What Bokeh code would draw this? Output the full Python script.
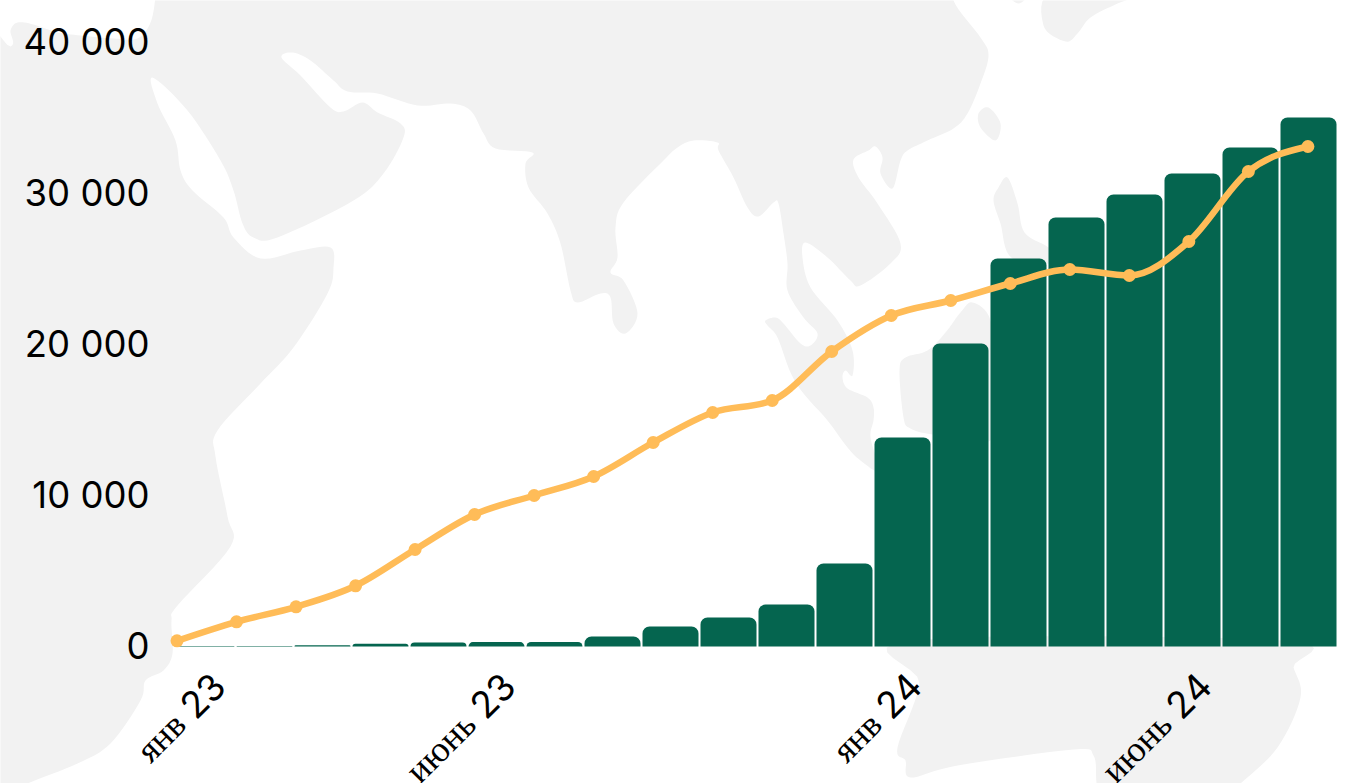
from math import pi
import numpy as np
from bokeh.core.properties import value
from bokeh.embed import file_html
from bokeh.models import ColumnDataSource, FixedTicker, LinearAxis, Range1d
from bokeh.plotting import figure
from bokeh.resources import INLINE

# ---------- data ----------
months = ["янв", "фев", "мар", "апр", "май", "июнь", "июль", "авг", "сен", "окт",
          "ноя", "дек", "янв", "фев", "мар", "апр", "май", "июнь", "июль", "авг"]
bar_values = [25, 40, 80, 190, 265, 290, 300, 662, 1325, 1920, 2781, 5497, 13840,
              20066, 25695, 28410, 29934, 31325, 33046, 35033]
line_values = [377, 1636, 2629, 4020, 6424, 8742, 10000, 11258, 13510, 15497, 16291,
               19536, 21920, 22914, 24040, 24967, 24570, 26821, 31457, 33113]
y_ticks = [0, 10000, 20000, 30000, 40000]
y_tick_labels = ["0", "10 000", "20 000", "30 000", "40 000"]
x_tick_index = [0, 5, 12, 17]
x_tick_months = ["янв", "июнь", "янв", "июнь"]
x_tick_years = ["23", "23", "24", "24"]

# background map outlines (decorative), page pixels
land_main = [(-30, 44), (10, 46), (10, 30), (17, 22), (33, 24), (57, 32), (80, 35), (113, 38), (137, 38), (150, 22), (155, -5),
             (155, -30), (953, -30), (953, 0), (980, 37), (988, 55), (980, 83), (967, 113), (953, 128), (927, 140), (907, 150), (900, 160),
             (892, 188), (880, 173), (882, 157), (875, 146), (868, 150), (853, 159), (858, 177), (877, 203), (900, 243), (890, 263),
             (860, 285), (850, 280), (827, 257), (805, 242), (802, 257), (810, 287), (837, 320), (852, 350), (852, 375), (845, 370),
             (842, 377), (847, 388), (867, 397), (873, 407), (873, 420), (870, 437), (878, 470), (860, 460), (847, 447), (827, 420),
             (803, 393), (790, 372), (777, 337), (767, 325), (765, 320), (775, 317), (783, 323), (800, 343), (810, 345), (817, 333),
             (803, 317), (787, 290), (787, 263), (783, 233), (778, 203), (773, 202), (758, 216), (747, 207), (733, 177), (718, 150),
             (717, 142), (693, 140), (677, 147), (663, 160), (623, 202), (615, 227), (617, 257), (610, 272), (623, 280), (637, 313),
             (625, 333), (613, 323), (610, 297), (600, 293), (577, 302), (570, 290), (560, 243), (547, 213), (528, 187), (525, 163),
             (532, 152), (495, 148), (483, 133), (470, 110), (450, 103), (417, 105), (377, 93), (347, 91), (333, 80), (310, 60),
             (292, 52), (281, 57), (300, 75), (330, 107), (343, 111), (362, 102), (377, 112), (400, 123), (403, 137), (383, 173),
             (353, 200), (277, 237), (253, 237), (242, 223), (233, 190), (220, 160), (187, 110), (152, 77), (157, 103), (175, 140),
             (180, 170), (192, 190), (223, 217), (233, 237), (260, 258), (300, 250), (330, 247), (333, 267), (327, 293), (293, 347),
             (260, 383), (217, 430), (215, 456), (227, 516), (230, 546), (177, 605), (171, 620), (172, 653), (163, 670), (145, 680),
             (140, 700), (110, 743), (77, 763), (27, 783), (-5, 800), (-30, 800), (-30, 400)]
land_isle = [(988, 107), (1000, 123), (995, 140), (980, 127), (978, 113)]
land_phil = [(1007, 177), (1017, 203), (1024, 232), (1048, 247), (1060, 262), (1012, 258), (1000, 223), (993, 200), (998, 187)]
land_japan = [(1053, -10), (1043, 25), (1065, 41), (1077, 33), (1090, 17), (1117, 3), (1147, -10)]
land_tiny = [(1008, -5), (1018, 3), (1027, -5)]
land_borneo = [(972, 302), (990, 320), (995, 380), (990, 440), (932, 434), (910, 428), (903, 417), (899, 370), (905, 357), (927, 350), (945, 332), (960, 312)]
land_aus = [(910, 640), (919, 683), (897, 747), (905, 760), (910, 777), (957, 765), (1073, 749), (1093, 755), (1096, 782), (1100, 800),
            (1220, 800), (1240, 783), (1277, 747), (1300, 697), (1293, 667), (1283, 640)]
land_shapes = [land_main, land_isle, land_phil, land_japan, land_tiny, land_borneo, land_aus]


def smooth_closed(pts, n=8):
    P = np.array(pts, float)
    k = len(P)
    out = []
    for i in range(k):
        p0, p1, p2, p3 = P[(i - 1) % k], P[i], P[(i + 1) % k], P[(i + 2) % k]
        for t in np.linspace(0, 1, n, endpoint=False):
            out.append(0.5 * (2 * p1 + (p2 - p0) * t + (2 * p0 - 5 * p1 + 4 * p2 - p3) * t ** 2
                              + (3 * p1 - p0 - 3 * p2 + p3) * t ** 3))
    out = np.array(out)
    return out[:, 0].tolist(), out[:, 1].tolist()


def monotone_segments(y):
    """d3 curveMonotoneX control points for unit-spaced x."""
    y = np.array(y, float)
    d = np.diff(y)
    m = np.zeros(len(y))
    for i in range(1, len(y) - 1):
        s = np.sign(d[i - 1]) + np.sign(d[i])
        m[i] = s * min(abs(d[i - 1]), abs(d[i]), 0.25 * abs(d[i - 1] + d[i]))
    m[0] = (3 * d[0] - m[1]) / 2
    m[-1] = (3 * d[-1] - m[-2]) / 2
    x = np.arange(len(y), dtype=float)
    return dict(x0=x[:-1], y0=y[:-1], x1=x[1:], y1=y[1:], cx0=x[:-1] + 1 / 3, cy0=y[:-1] + m[:-1] / 3,
                cx1=x[1:] - 1 / 3, cy1=y[1:] - m[1:] / 3)


# ---------- layout (page pixels -> scales) ----------
W, H = 1360, 783
PX_L, PX_R, PX_T, PX_B = 0, W, 0, H
ZERO_PX, PX_PER_UNIT = 646, 0.0151
BAR_C0, BAR_PITCH = 206, 58
LINE_C0, LINE_PITCH = 176.5, 59.52

p = figure(width=W, height=H, output_backend="svg", toolbar_location=None,
           x_axis_type=None, y_axis_type=None,
           x_range=Range1d((PX_L - BAR_C0) / BAR_PITCH, (PX_R - BAR_C0) / BAR_PITCH),
           y_range=Range1d((ZERO_PX - PX_B) / PX_PER_UNIT, (ZERO_PX - PX_T) / PX_PER_UNIT),
           min_border=0, outline_line_color=None, background_fill_color="white", border_fill_color="white")
p.extra_x_ranges = {"line": Range1d((PX_L - LINE_C0) / LINE_PITCH, (PX_R - LINE_C0) / LINE_PITCH),
                    "map": Range1d(PX_L, PX_R)}
# tick labels of the value axis sit 1px above the bar baseline grid
p.extra_y_ranges = {"map": Range1d(PX_B, PX_T),
                    "ticks": Range1d((ZERO_PX - 1 - PX_B) / PX_PER_UNIT, (ZERO_PX - 1 - PX_T) / PX_PER_UNIT)}

# map
xs, ys = zip(*(smooth_closed(s) for s in land_shapes))
p.patches(list(xs), list(ys), x_range_name="map", y_range_name="map", fill_color="#f2f2f2", line_color=None)

# bars
idx = list(range(len(bar_values)))
p.vbar(x=idx, top=bar_values, bottom=0, width=56 / BAR_PITCH, fill_color="#05654f", line_color=None, border_radius=[7, 7, 0, 0])

# line
line_color = "#ffbc58"
p.bezier(source=ColumnDataSource(monotone_segments(line_values)), x0="x0", y0="y0", x1="x1", y1="y1", cx0="cx0", cy0="cy0",
         cx1="cx1", cy1="cy1", x_range_name="line", line_color=line_color, line_width=6.5, line_cap="round")
p.scatter(list(range(len(line_values))), line_values, x_range_name="line", size=13, fill_color=line_color, line_color=None)

# y axis
yax = LinearAxis(ticker=FixedTicker(ticks=y_ticks), fixed_location=(155 - BAR_C0) / BAR_PITCH, y_range_name="ticks",
                 major_label_overrides=dict(zip(y_ticks, y_tick_labels)),
                 axis_line_color=None, major_tick_line_color=None, minor_tick_line_color=None,
                 major_label_text_font="Inter", major_label_text_font_size="36.5px",
                 major_label_text_color="#000000", major_label_standoff=0)
p.add_layout(yax, "left")

# x tick labels: digits in sans, Cyrillic month in serif, as in the reference
p.text(x=x_tick_index, y=[0] * 4, text=x_tick_years, angle=pi / 4, x_offset=-4, y_offset=49, text_align="center",
       text_baseline="middle", text_font=value("Inter"), text_font_size="37px", text_color="#000000")
p.text(x=x_tick_index, y=[0] * 4, text=x_tick_months, angle=pi / 4, x_offset=-27, y_offset=72, text_align="right",
       text_baseline="middle", text_font=value("Liberation Serif"), text_font_size="36px", text_color="#000000")

open("out.html", "w").write(file_html(p, INLINE))
